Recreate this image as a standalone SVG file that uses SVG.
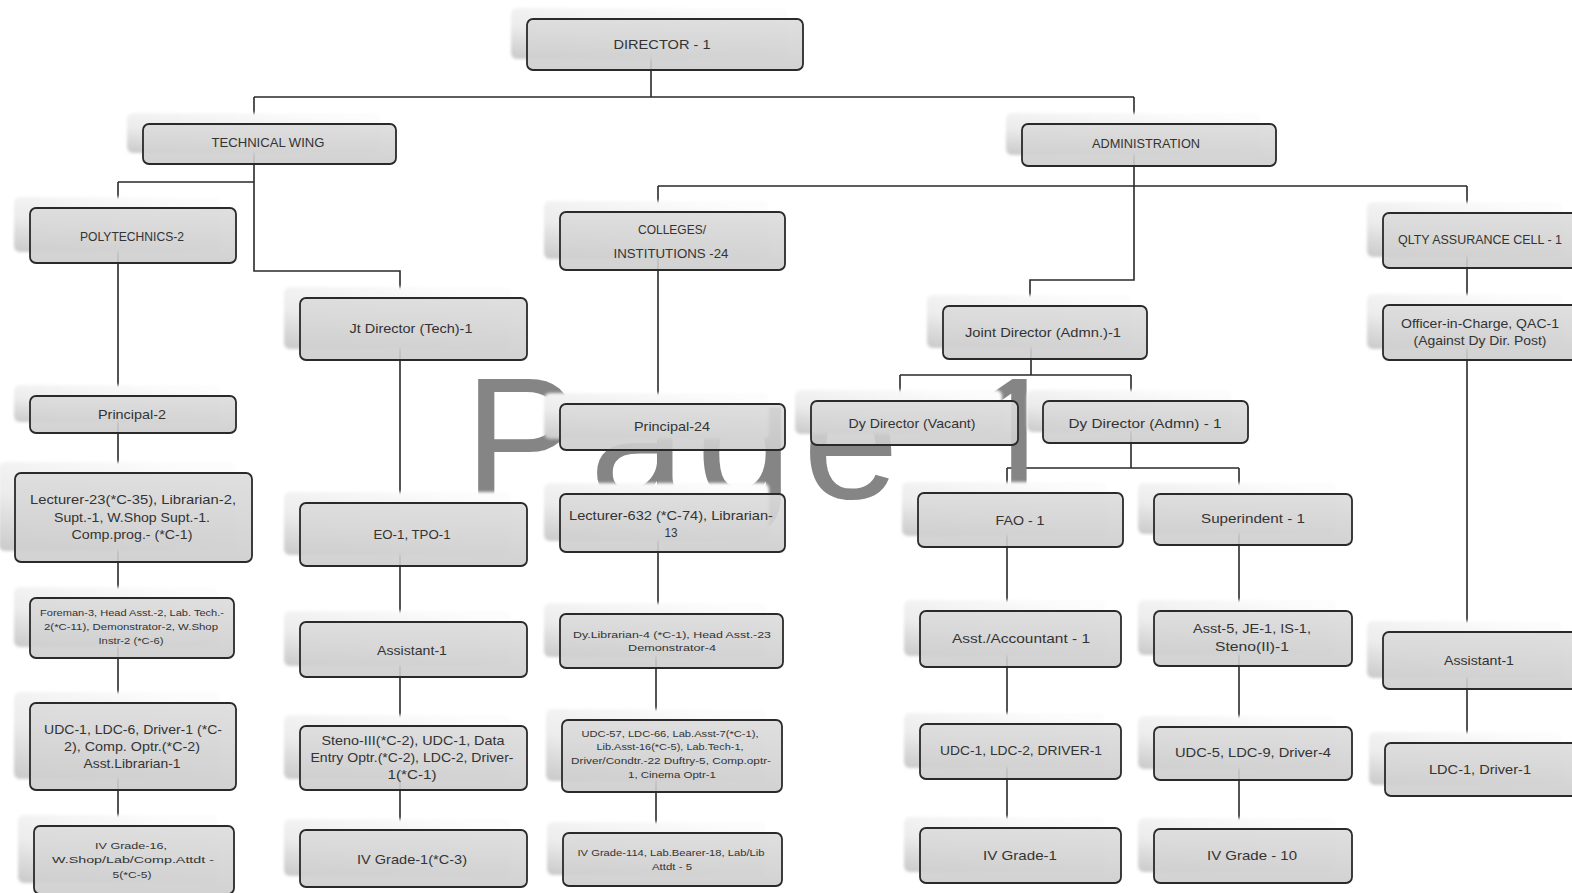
<svg xmlns="http://www.w3.org/2000/svg" width="1572" height="893" viewBox="0 0 1572 893">
  <defs>
    <linearGradient id="ghostFill" x1="0" y1="1" x2="0.7" y2="0">
      <stop offset="0" stop-color="#c9c9c9"/>
      <stop offset="0.45" stop-color="#ececec"/>
      <stop offset="1" stop-color="#fcfcfc"/>
    </linearGradient>
    <linearGradient id="boxFill" x1="0" y1="0" x2="0" y2="1">
      <stop offset="0" stop-color="#dcdcdc"/>
      <stop offset="1" stop-color="#cdcdcd"/>
    </linearGradient>
    <filter id="soft" x="-10%" y="-20%" width="120%" height="140%">
      <feGaussianBlur stdDeviation="1.6"/>
    </filter>
    <style>
      .ghost { fill: url(#ghostFill); filter: url(#soft); }
      .box { fill: url(#boxFill); fill-opacity: 0.9; stroke: #2a2a2a; stroke-width: 1.8; }
      .lnk { fill: none; stroke: #2a2a2a; stroke-width: 1.6; }
      text { font-family: "Liberation Sans", Arial, sans-serif; font-size: 13px; fill: #333; text-anchor: middle; }
      .sm { font-size: 9.5px; }
      .wm { font-family: "Liberation Sans", Arial, sans-serif; font-size: 173px; fill: #858585; text-anchor: start; }
    </style>
  </defs>
  <rect width="1572" height="893" fill="#ffffff"/>

  <!-- reporting lines -->
  <g id="connectors" class="lnk">
    <path d="M651,45 V97 M254,97 H1134 M254,97 V124 M1134,97 V124"/>
    <path d="M254,144 V271 H400 V298 M118,182 H254 M118,182 V208"/>
    <path d="M118,236 V396 M118,414 V473 M118,518 V598 M118,628 V703 M118,746 V826"/>
    <path d="M400,328 V503 M400,534 V622 M400,650 V726 M400,758 V830"/>
    <path d="M1134,145 V280 H1030 V306 M658,186 H1467 M658,186 V212 M1467,186 V213"/>
    <path d="M658,241 V404 M658,427 V494 M658,523 V614 M656,641 V720 M656,756 V833"/>
    <path d="M1031,332 V375 M900,375 H1131 M900,375 V401 M1131,375 V401"/>
    <path d="M1131,422 V468 M1007,468 H1239 M1007,468 V493 M1239,468 V494"/>
    <path d="M1007,520 V611 M1007,639 V724 M1007,751 V828"/>
    <path d="M1239,519 V611 M1239,638 V727 M1239,753 V829"/>
    <path d="M1467,240 V305 M1467,332 V632 M1467,660 V743"/>
  </g>

  <!-- background page label -->
  <text class="wm" x="464" y="498" textLength="600" lengthAdjust="spacing">Page 1</text>

  <g id="n-director">
    <rect class="ghost" x="511" y="8" width="276" height="51" rx="6"/>
    <rect class="box" x="527" y="19" width="276" height="51" rx="6"/>
    <text x="662" y="49" font-size="14" textLength="97" lengthAdjust="spacingAndGlyphs">DIRECTOR - 1</text>
  </g>
  <g id="n-techwing">
    <rect class="ghost" x="127" y="113" width="253" height="40" rx="6"/>
    <rect class="box" x="143" y="124" width="253" height="40" rx="6"/>
    <text x="268" y="147" textLength="113" lengthAdjust="spacingAndGlyphs">TECHNICAL WING</text>
  </g>
  <g id="n-admin">
    <rect class="ghost" x="1006" y="113" width="254" height="42" rx="6"/>
    <rect class="box" x="1022" y="124" width="254" height="42" rx="6"/>
    <text x="1146" y="148" textLength="108" lengthAdjust="spacingAndGlyphs">ADMINISTRATION</text>
  </g>
  <g id="n-poly">
    <rect class="ghost" x="14" y="197" width="206" height="55" rx="6"/>
    <rect class="box" x="30" y="208" width="206" height="55" rx="6"/>
    <text x="132" y="241" textLength="104" lengthAdjust="spacingAndGlyphs">POLYTECHNICS-2</text>
  </g>
  <g id="n-colleges">
    <rect class="ghost" x="544" y="201" width="225" height="58" rx="6"/>
    <rect class="box" x="560" y="212" width="225" height="58" rx="6"/>
    <text x="672" y="234" textLength="68" lengthAdjust="spacingAndGlyphs">COLLEGES/</text>
    <text x="671" y="258" textLength="115" lengthAdjust="spacingAndGlyphs">INSTITUTIONS  -24</text>
  </g>
  <g id="n-qac">
    <rect class="ghost" x="1367" y="202" width="195" height="55" rx="6"/>
    <rect class="box" x="1383" y="213" width="195" height="55" rx="6"/>
    <text x="1480" y="244" textLength="164" lengthAdjust="spacingAndGlyphs">QLTY ASSURANCE  CELL - 1</text>
  </g>
  <g id="n-jt-tech">
    <rect class="ghost" x="284" y="287" width="227" height="62" rx="6"/>
    <rect class="box" x="300" y="298" width="227" height="62" rx="6"/>
    <text x="411" y="333" textLength="123" lengthAdjust="spacingAndGlyphs">Jt Director (Tech)-1</text>
  </g>
  <g id="n-jt-admn">
    <rect class="ghost" x="927" y="295" width="204" height="53" rx="6"/>
    <rect class="box" x="943" y="306" width="204" height="53" rx="6"/>
    <text x="1043" y="337" textLength="156" lengthAdjust="spacingAndGlyphs">Joint Director (Admn.)-1</text>
  </g>
  <g id="n-officer">
    <rect class="ghost" x="1367" y="294" width="195" height="55" rx="6"/>
    <rect class="box" x="1383" y="305" width="195" height="55" rx="6"/>
    <text x="1480" y="328" textLength="158" lengthAdjust="spacingAndGlyphs">Officer-in-Charge, QAC-1</text>
    <text x="1480" y="345" textLength="133" lengthAdjust="spacingAndGlyphs">(Against Dy Dir. Post)</text>
  </g>
  <g id="n-principal-2">
    <rect class="ghost" x="14" y="385" width="206" height="37" rx="6"/>
    <rect class="box" x="30" y="396" width="206" height="37" rx="6"/>
    <text x="132" y="419" textLength="68" lengthAdjust="spacingAndGlyphs">Principal-2</text>
  </g>
  <g id="n-principal-24">
    <rect class="ghost" x="544" y="393" width="225" height="46" rx="6"/>
    <rect class="box" x="560" y="404" width="225" height="46" rx="6"/>
    <text x="672" y="431" textLength="76" lengthAdjust="spacingAndGlyphs">Principal-24</text>
  </g>
  <g id="n-dy-vacant">
    <rect class="ghost" x="795" y="390" width="207" height="44" rx="6"/>
    <rect class="box" x="811" y="401" width="207" height="44" rx="6"/>
    <text x="912" y="428" textLength="127" lengthAdjust="spacingAndGlyphs">Dy Director (Vacant)</text>
  </g>
  <g id="n-dy-admn">
    <rect class="ghost" x="1027" y="390" width="205" height="42" rx="6"/>
    <rect class="box" x="1043" y="401" width="205" height="42" rx="6"/>
    <text x="1145" y="428" textLength="153" lengthAdjust="spacingAndGlyphs">Dy Director (Admn) - 1</text>
  </g>
  <g id="n-lecturer-23">
    <rect class="ghost" x="-1" y="462" width="237" height="89" rx="6"/>
    <rect class="box" x="15" y="473" width="237" height="89" rx="6"/>
    <text x="133" y="504" textLength="206" lengthAdjust="spacingAndGlyphs">Lecturer-23(*C-35), Librarian-2,</text>
    <text x="132" y="522" textLength="156" lengthAdjust="spacingAndGlyphs">Supt.-1, W.Shop Supt.-1.</text>
    <text x="132" y="539" textLength="121" lengthAdjust="spacingAndGlyphs">Comp.prog.- (*C-1)</text>
  </g>
  <g id="n-eo">
    <rect class="ghost" x="284" y="492" width="227" height="63" rx="6"/>
    <rect class="box" x="300" y="503" width="227" height="63" rx="6"/>
    <text x="412" y="539" textLength="77" lengthAdjust="spacingAndGlyphs">EO-1, TPO-1</text>
  </g>
  <g id="n-lecturer-632">
    <rect class="ghost" x="544" y="483" width="225" height="58" rx="6"/>
    <rect class="box" x="560" y="494" width="225" height="58" rx="6"/>
    <text x="671" y="520" textLength="204" lengthAdjust="spacingAndGlyphs">Lecturer-632 (*C-74), Librarian-</text>
    <text x="671" y="537" textLength="13" lengthAdjust="spacingAndGlyphs">13</text>
  </g>
  <g id="n-fao">
    <rect class="ghost" x="902" y="482" width="205" height="54" rx="6"/>
    <rect class="box" x="918" y="493" width="205" height="54" rx="6"/>
    <text x="1020" y="525" textLength="49" lengthAdjust="spacingAndGlyphs">FAO - 1</text>
  </g>
  <g id="n-superindent">
    <rect class="ghost" x="1138" y="483" width="198" height="51" rx="6"/>
    <rect class="box" x="1154" y="494" width="198" height="51" rx="6"/>
    <text x="1253" y="523" textLength="104" lengthAdjust="spacingAndGlyphs">Superindent - 1</text>
  </g>
  <g id="n-foreman">
    <rect class="ghost" x="14" y="587" width="204" height="60" rx="6"/>
    <rect class="box" x="30" y="598" width="204" height="60" rx="6"/>
    <text class="sm" x="132" y="616" textLength="184" lengthAdjust="spacingAndGlyphs">Foreman-3, Head  Asst.-2, Lab. Tech.-</text>
    <text class="sm" x="131" y="630" textLength="174" lengthAdjust="spacingAndGlyphs">2(*C-11), Demonstrator-2,  W.Shop</text>
    <text class="sm" x="131" y="644" textLength="65" lengthAdjust="spacingAndGlyphs">Instr-2 (*C-6)</text>
  </g>
  <g id="n-assistant-tech">
    <rect class="ghost" x="284" y="611" width="227" height="55" rx="6"/>
    <rect class="box" x="300" y="622" width="227" height="55" rx="6"/>
    <text x="412" y="655" textLength="70" lengthAdjust="spacingAndGlyphs">Assistant-1</text>
  </g>
  <g id="n-dy-librarian">
    <rect class="ghost" x="544" y="603" width="223" height="54" rx="6"/>
    <rect class="box" x="560" y="614" width="223" height="54" rx="6"/>
    <text class="sm" x="672" y="638" font-size="11" textLength="198" lengthAdjust="spacingAndGlyphs">Dy.Librarian-4 (*C-1), Head  Asst.-23</text>
    <text class="sm" x="672" y="651" font-size="11" textLength="88" lengthAdjust="spacingAndGlyphs">Demonstrator-4</text>
  </g>
  <g id="n-accountant">
    <rect class="ghost" x="904" y="600" width="201" height="56" rx="6"/>
    <rect class="box" x="920" y="611" width="201" height="56" rx="6"/>
    <text x="1021" y="643" textLength="138" lengthAdjust="spacingAndGlyphs">Asst./Accountant - 1</text>
  </g>
  <g id="n-asst-5">
    <rect class="ghost" x="1138" y="600" width="198" height="55" rx="6"/>
    <rect class="box" x="1154" y="611" width="198" height="55" rx="6"/>
    <text x="1252" y="633" textLength="118" lengthAdjust="spacingAndGlyphs">Asst-5, JE-1, IS-1,</text>
    <text x="1252" y="651" textLength="74" lengthAdjust="spacingAndGlyphs">Steno(II)-1</text>
  </g>
  <g id="n-assistant-qac">
    <rect class="ghost" x="1367" y="621" width="195" height="57" rx="6"/>
    <rect class="box" x="1383" y="632" width="195" height="57" rx="6"/>
    <text x="1479" y="665" textLength="70" lengthAdjust="spacingAndGlyphs">Assistant-1</text>
  </g>
  <g id="n-udc-tech">
    <rect class="ghost" x="14" y="692" width="206" height="87" rx="6"/>
    <rect class="box" x="30" y="703" width="206" height="87" rx="6"/>
    <text x="133" y="734" textLength="178" lengthAdjust="spacingAndGlyphs">UDC-1, LDC-6, Driver-1 (*C-</text>
    <text x="132" y="751" textLength="136" lengthAdjust="spacingAndGlyphs">2), Comp. Optr.(*C-2)</text>
    <text x="132" y="768" textLength="97" lengthAdjust="spacingAndGlyphs">Asst.Librarian-1</text>
  </g>
  <g id="n-steno">
    <rect class="ghost" x="284" y="715" width="227" height="64" rx="6"/>
    <rect class="box" x="300" y="726" width="227" height="64" rx="6"/>
    <text x="413" y="745" textLength="183" lengthAdjust="spacingAndGlyphs">Steno-III(*C-2), UDC-1,  Data</text>
    <text x="412" y="762" textLength="203" lengthAdjust="spacingAndGlyphs">Entry Optr.(*C-2), LDC-2, Driver-</text>
    <text x="412" y="779" textLength="49" lengthAdjust="spacingAndGlyphs">1(*C-1)</text>
  </g>
  <g id="n-udc-57">
    <rect class="ghost" x="546" y="709" width="220" height="72" rx="6"/>
    <rect class="box" x="562" y="720" width="220" height="72" rx="6"/>
    <text class="sm" x="670" y="737" textLength="177" lengthAdjust="spacingAndGlyphs">UDC-57, LDC-66,    Lab.Asst-7(*C-1),</text>
    <text class="sm" x="670" y="750" textLength="147" lengthAdjust="spacingAndGlyphs">Lib.Asst-16(*C-5), Lab.Tech-1,</text>
    <text class="sm" x="671" y="764" textLength="200" lengthAdjust="spacingAndGlyphs">Driver/Condtr.-22  Duftry-5,  Comp.optr-</text>
    <text class="sm" x="672" y="778" textLength="88" lengthAdjust="spacingAndGlyphs">1,  Cinema Optr-1</text>
  </g>
  <g id="n-udc-admin">
    <rect class="ghost" x="904" y="713" width="201" height="55" rx="6"/>
    <rect class="box" x="920" y="724" width="201" height="55" rx="6"/>
    <text x="1021" y="755" textLength="162" lengthAdjust="spacingAndGlyphs">UDC-1, LDC-2, DRIVER-1</text>
  </g>
  <g id="n-udc-5">
    <rect class="ghost" x="1138" y="716" width="198" height="53" rx="6"/>
    <rect class="box" x="1154" y="727" width="198" height="53" rx="6"/>
    <text x="1253" y="757" textLength="156" lengthAdjust="spacingAndGlyphs">UDC-5, LDC-9, Driver-4</text>
  </g>
  <g id="n-ldc-qac">
    <rect class="ghost" x="1369" y="732" width="193" height="53" rx="6"/>
    <rect class="box" x="1385" y="743" width="193" height="53" rx="6"/>
    <text x="1480" y="774" textLength="102" lengthAdjust="spacingAndGlyphs">LDC-1, Driver-1</text>
  </g>
  <g id="n-iv-16">
    <rect class="ghost" x="18" y="815" width="200" height="68" rx="6"/>
    <rect class="box" x="34" y="826" width="200" height="68" rx="6"/>
    <text class="sm" x="131" y="849" font-size="11" textLength="72" lengthAdjust="spacingAndGlyphs">IV Grade-16,</text>
    <text class="sm" x="133" y="863" font-size="11" textLength="162" lengthAdjust="spacingAndGlyphs">W.Shop/Lab/Comp.Attdt      -</text>
    <text class="sm" x="132" y="878" font-size="11" textLength="39" lengthAdjust="spacingAndGlyphs">5(*C-5)</text>
  </g>
  <g id="n-iv-tech">
    <rect class="ghost" x="284" y="819" width="227" height="57" rx="6"/>
    <rect class="box" x="300" y="830" width="227" height="57" rx="6"/>
    <text x="412" y="864" textLength="110" lengthAdjust="spacingAndGlyphs">IV Grade-1(*C-3)</text>
  </g>
  <g id="n-iv-114">
    <rect class="ghost" x="547" y="822" width="219" height="53" rx="6"/>
    <rect class="box" x="563" y="833" width="219" height="53" rx="6"/>
    <text class="sm" x="671" y="856" textLength="187" lengthAdjust="spacingAndGlyphs">IV Grade-114, Lab.Bearer-18,  Lab/Lib</text>
    <text class="sm" x="672" y="870" textLength="40" lengthAdjust="spacingAndGlyphs">Attdt - 5</text>
  </g>
  <g id="n-iv-admin">
    <rect class="ghost" x="904" y="817" width="201" height="55" rx="6"/>
    <rect class="box" x="920" y="828" width="201" height="55" rx="6"/>
    <text x="1020" y="860" textLength="74" lengthAdjust="spacingAndGlyphs">IV Grade-1</text>
  </g>
  <g id="n-iv-10">
    <rect class="ghost" x="1138" y="818" width="198" height="54" rx="6"/>
    <rect class="box" x="1154" y="829" width="198" height="54" rx="6"/>
    <text x="1252" y="860" textLength="90" lengthAdjust="spacingAndGlyphs">IV Grade - 10</text>
  </g>
</svg>
